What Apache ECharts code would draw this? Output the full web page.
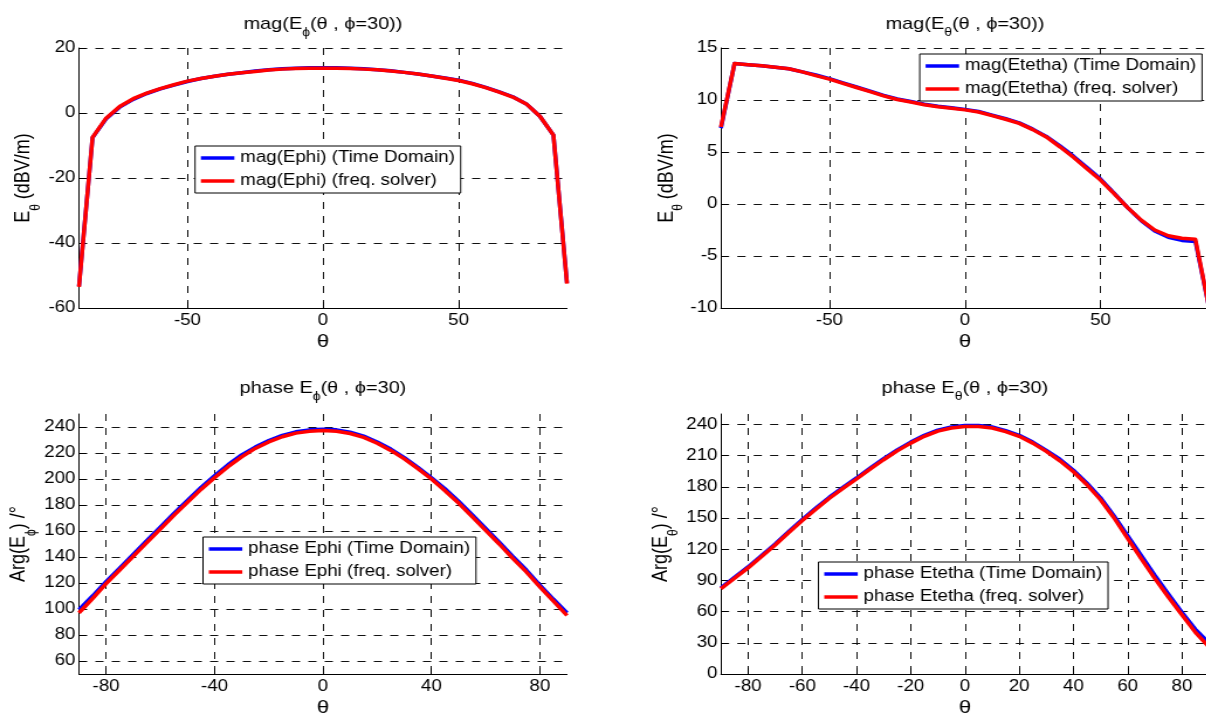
<!DOCTYPE html>
<html><head><meta charset="utf-8">
<script src="https://cdn.jsdelivr.net/npm/echarts@6/dist/echarts.min.js"></script>
<style>
html,body{margin:0;padding:0;background:#fff;overflow:hidden;width:1206px;height:713px;}
#wrap{width:1206px;height:713px;overflow:hidden;position:relative;background:#fff;}
#chart{width:1040px;height:713px;transform:scaleX(1.17);transform-origin:0 0;}
</style></head><body><div id="wrap"><div id="chart"></div></div>
<script>
// ---- data ----
const theta = [-90,-85,-80,-75,-70,-65,-60,-55,-50,-45,-40,-35,-30,-25,-20,-15,-10,-5,0,5,10,15,20,25,30,35,40,45,50,55,60,65,70,75,80,85,90];

const magEphiTD   = [-53.3,-7.6,-1.8,1.8,4.2,6.0,7.4,8.6,9.7,10.6,11.3,11.9,12.4,12.9,13.3,13.6,13.8,13.9,13.9,13.9,13.8,13.6,13.3,13.0,12.5,12.0,11.4,10.8,10.1,9.1,7.9,6.5,5.0,2.8,-1.0,-6.8,-52.3];
const magEphiFS   = [-53.5,-7.5,-1.6,2.0,4.4,6.1,7.5,8.7,9.8,10.6,11.3,11.9,12.4,12.8,13.2,13.5,13.7,13.8,13.8,13.8,13.7,13.5,13.3,12.9,12.5,12.0,11.4,10.7,10.0,9.0,7.8,6.4,4.9,2.8,-1.0,-6.8,-52.5];

const magEthetaTD = [7.3,13.5,13.4,13.3,13.15,13.0,12.7,12.4,12.05,11.65,11.25,10.85,10.45,10.1,9.85,9.6,9.4,9.25,9.1,8.9,8.55,8.2,7.8,7.2,6.5,5.6,4.6,3.5,2.4,1.05,-0.35,-1.6,-2.6,-3.2,-3.5,-3.6,-9.9];
const magEthetaFS = [7.4,13.5,13.4,13.3,13.15,13.0,12.7,12.35,12.0,11.6,11.2,10.8,10.4,10.05,9.8,9.55,9.35,9.2,9.05,8.85,8.5,8.15,7.75,7.15,6.45,5.5,4.5,3.4,2.3,1.0,-0.35,-1.55,-2.5,-3.05,-3.3,-3.4,-9.9];

const phaseEphiTD = [99.5,110,121,131.5,142,152.5,163,173.5,183.5,193.5,202.5,211,218.5,224.5,229.5,233.5,236.3,237.8,238.3,237.8,236,233,228.5,223,216.5,209,201,192.5,183,172.5,162,151.5,140.5,130,118.5,107.5,97];
const phaseEphiFS = [97,108,119.5,130,140.5,151,161.5,172,182,192,201,209.5,217,223.5,228.5,232.5,235.3,236.8,237.3,236.8,235,232,227.5,222,215.5,208,200,191,181.5,171,160.5,150,139,128.5,117,106,95];

const phaseEthetaTD = [83,93,103,114,125,137,148.5,159.5,170,179.5,188.5,198,207,215.5,223,229.5,234.5,237.5,239,239,237.5,234,229.5,223,215,206.5,196,183.5,169.5,152,133,114,95,77,59.5,43,30];
const phaseEthetaFS = [82,92,102,113,124,136,147.5,158.5,169,178.5,187.5,197,206,214.5,222,228.5,233.5,236.5,238,238,236.5,233,228.5,222,214,205,194.5,182,167.5,150,130.5,111,92,74,57,40,26];

const xTicksMag = [-50,0,50];
const xTicksPhiPhase = [-80,-40,0,40,80];
const xTicksThetaPhase = [-80,-60,-40,-20,0,20,40,60,80];
const yTicksMagPhi = [-60,-40,-20,0,20];
const yTicksMagTheta = [-10,-5,0,5,10,15];
const yTicksPhasePhi = [60,80,100,120,140,160,180,200,220,240];
const yTicksPhaseTheta = [0,30,60,90,120,150,180,210,240];

const names = {
  magPhiTD: 'mag(Ephi) (Time Domain)', magPhiFS: 'mag(Ephi) (freq. solver)',
  magThTD: 'mag(Etetha) (Time Domain)', magThFS: 'mag(Etetha) (freq. solver)',
  phPhiTD: 'phase Ephi (Time Domain)', phPhiFS: 'phase Ephi (freq. solver)',
  phThTD: 'phase Etetha (Time Domain)', phThFS: 'phase Etetha (freq. solver)'
};

// ---- layout ----
const FONT = '"Liberation Sans", Arial, Helvetica, sans-serif';
const GL = 67.5, GR = 616.2, GW = 417.1, GH = 260, GT1 = 48, GT2 = 414;

function pairs(xs, ys){ return xs.map((x,i)=>[x, ys[i]]); }

const gridLineStyle = {type:[7,7], color:'#111', width:1};

function xAx(gi, ticks){
  return {
    type:'value', gridIndex:gi, min:-90, max:90,
    name:'θ', nameLocation:'middle', nameGap:24,
    nameTextStyle:{fontFamily:FONT, fontSize:19, color:'#000'},
    axisLine:{show:true, onZero:false, lineStyle:{color:'#000', width:1}},
    axisTick:{show:true, inside:true, length:6, customValues:ticks, lineStyle:{color:'#000'}},
    axisLabel:{customValues:ticks, margin:5, fontFamily:FONT, fontSize:16, color:'#000'},
    splitLine:{show:true, lineStyle:gridLineStyle}
  };
}
function yAx(gi, min, max, ticks, nameRich, gap){
  return {
    type:'value', gridIndex:gi, min:min, max:max,
    name:nameRich, nameLocation:'middle', nameGap:gap, nameRotate:90,
    nameTextStyle:{fontFamily:FONT, fontSize:18, color:'#000',
      rich:{
        m:{fontFamily:FONT, fontSize:18, color:'#000', lineHeight:20},
        s:{fontFamily:FONT, fontSize:12, color:'#000', lineHeight:20, padding:[20,0,0,0]}
      }},
    axisLine:{show:true, onZero:false, lineStyle:{color:'#000', width:1}},
    axisTick:{show:true, inside:true, length:6, customValues:ticks, lineStyle:{color:'#000'}},
    axisLabel:{customValues:ticks, margin:3, padding:[4,0,0,0], fontFamily:FONT, fontSize:16, color:'#000'},
    splitLine:{show:true, lineStyle:gridLineStyle}
  };
}
function line(name, gi, ys, color, w){
  return {type:'line', name:name, xAxisIndex:gi, yAxisIndex:gi, data:pairs(theta, ys),
    symbol:'none', color:color, lineStyle:{color:color, width:w, join:'round'}, clip:true, animation:false, z:3};
}
function legend(left, top, data){
  return {orient:'vertical', left:left, top:top, padding:[3,5,3,5], itemGap:5,
    itemWidth:28.6, itemHeight:3.5, icon:'rect', backgroundColor:'#fff',
    borderColor:'#000', borderWidth:1, borderRadius:0, selectedMode:false,
    textStyle:{fontFamily:FONT, fontSize:16, color:'#000', lineHeight:18}, data:data, z:10};
}
function titleText(x, y, txt){
  return {type:'text', x:x, y:y, z:20, style:{text:txt, align:'center', verticalAlign:'middle', fill:'#000',
    rich:{
      m:{fontFamily:FONT, fontSize:17, fill:'#000', lineHeight:22},
      s:{fontFamily:FONT, fontSize:12, fill:'#000', lineHeight:22, padding:[17,0,0,0]}
    }}};
}
function grid(left, top){
  return {left:left, top:top, width:GW, height:GH, containLabel:false, outerBoundsMode:'none'};
}

const option = {
  backgroundColor:'#fff',
  animation:false,
  grid:[grid(GL, GT1), grid(GR, GT1), grid(GL, GT2), grid(GR, GT2)],
  xAxis:[xAx(0, xTicksMag), xAx(1, xTicksMag), xAx(2, xTicksPhiPhase), xAx(3, xTicksThetaPhase)],
  yAxis:[
    yAx(0, -60, 20, yTicksMagPhi, '{m|E}{s|θ}{m| (dBV/m)}', 37),
    yAx(1, -10, 15, yTicksMagTheta, '{m|E}{s|θ}{m| (dBV/m)}', 36),
    yAx(2, 50, 250, yTicksPhasePhi, '{m|Arg(E}{s|ϕ}{m|) /°}', 41),
    yAx(3, 0, 250, yTicksPhaseTheta, '{m|Arg(E}{s|θ}{m|) /°}', 41)
  ],
  legend:[
    legend(166.7, 146, [names.magPhiTD, names.magPhiFS]),
    legend(786.1, 54, [names.magThTD, names.magThFS]),
    legend(173.5, 537, [names.phPhiTD, names.phPhiFS]),
    legend(699.5, 562, [names.phThTD, names.phThFS])
  ],
  graphic:[
    titleText(GL+GW/2, 24, '{m|mag(E}{s|ϕ}{m|(θ , ϕ=30))}'),
    titleText(GR+GW/2, 24, '{m|mag(E}{s|θ}{m|(θ , ϕ=30))}'),
    titleText(GL+GW/2, 388, '{m|phase E}{s|ϕ}{m|(θ , ϕ=30)}'),
    titleText(GR+GW/2, 388, '{m|phase E}{s|θ}{m|(θ , ϕ=30)}')
  ],
  series:[
    line(names.magPhiTD, 0, magEphiTD, '#0000ff', 3.5),
    line(names.magPhiFS, 0, magEphiFS, '#ff0000', 3.5),
    line(names.magThTD, 1, magEthetaTD, '#0000ff', 3.5),
    line(names.magThFS, 1, magEthetaFS, '#ff0000', 3.5),
    line(names.phPhiTD, 2, phaseEphiTD, '#0000ff', 3.5),
    line(names.phPhiFS, 2, phaseEphiFS, '#ff0000', 3.5),
    line(names.phThTD, 3, phaseEthetaTD, '#0000ff', 3.5),
    line(names.phThFS, 3, phaseEthetaFS, '#ff0000', 3.5)
  ]
};
const chart = echarts.init(document.getElementById('chart'), null, {renderer:'canvas', width:1040, height:713});
chart.setOption(option);
</script></body></html>
